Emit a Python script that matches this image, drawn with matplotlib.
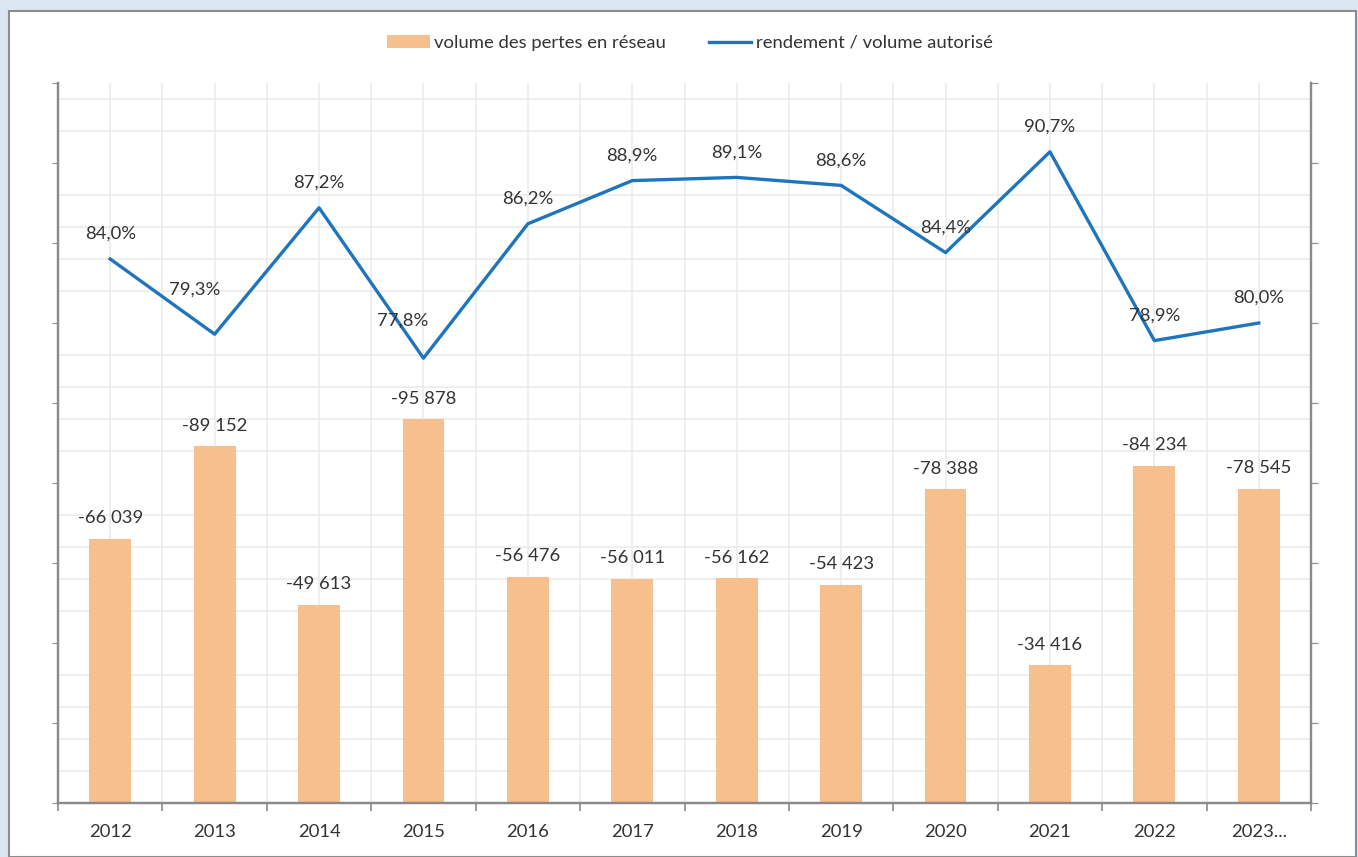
import matplotlib
matplotlib.use("Agg")
import matplotlib.pyplot as plt
from matplotlib.patches import Rectangle
import numpy as np

years = ["2012", "2013", "2014", "2015", "2016", "2017",
         "2018", "2019", "2020", "2021", "2022", "2023..."]
pertes = [-66039, -89152, -49613, -95878, -56476, -56011,
          -56162, -54423, -78388, -34416, -84234, -78545]
rendement = [84.0, 79.3, 87.2, 77.8, 86.2, 88.9,
             89.1, 88.6, 84.4, 90.7, 78.9, 80.0]

BAR_COLOR = "#f8bf8e"
LINE_COLOR = "#1f75bd"
TEXT_COLOR = "#333333"
AXIS_COLOR = "#8a8a8a"
GRID_COLOR = "#ebebeb"
FS = 13.3

plt.rcParams["font.family"] = ["Lato", "DejaVu Sans"]

fig = plt.figure(figsize=(13.58, 8.57), dpi=100)
fig.patch.set_facecolor("#dce6f2")

# white chart panel with grey frame
fig.patches.append(Rectangle(
    (9 / 1358, 0), 1347 / 1358, 846 / 857,
    transform=fig.transFigure, facecolor="white",
    edgecolor="#8c8c8c", linewidth=1.5, zorder=-10))

ax = fig.add_axes([58 / 1358, 54 / 857, 1253 / 1358, 720 / 857])
ax.set_facecolor("none")

x = np.arange(len(years))

ax.bar(x, pertes, width=0.4, color=BAR_COLOR, zorder=2,
       label="volume des pertes en réseau")

ax.set_xlim(-0.5, len(years) - 0.5)
ax.set_ylim(0, -180000)

# x: ticks at category boundaries, labels at centres
ax.set_xticks(np.arange(-0.5, len(years), 1.0))
ax.set_xticklabels([])
ax.set_xticks(x, minor=True)
ax.set_xticklabels(years, minor=True)
ax.tick_params(axis="x", which="major", length=6, width=1.2,
               color=AXIS_COLOR, direction="out")
ax.tick_params(axis="x", which="minor", length=0, pad=15,
               labelsize=FS, labelcolor=TEXT_COLOR)

# y: ticks every 20000, light grid every 8000
ax.set_yticks(np.arange(0, -180001, -20000))
ax.set_yticklabels([])
ax.set_yticks(np.arange(-8000, -180000, -8000), minor=True)
ax.tick_params(axis="y", which="major", length=4, width=0.8,
               color=AXIS_COLOR, direction="out")
ax.tick_params(axis="y", which="minor", length=0)

ax.grid(True, which="minor", axis="y", color=GRID_COLOR, linewidth=1.2)
ax.grid(True, which="both", axis="x", color=GRID_COLOR, linewidth=1.2)
ax.set_axisbelow(True)

for side in ["left", "right", "bottom"]:
    ax.spines[side].set_color(AXIS_COLOR)
    ax.spines[side].set_linewidth(1.6)
ax.spines["top"].set_visible(False)

for xi, v in zip(x, pertes):
    txt = f"{v:,}".replace(",", " ")
    ax.annotate(txt, (xi, v), xytext=(0, 15), textcoords="offset points",
                ha="center", va="center", fontsize=FS, color=TEXT_COLOR)

ax2 = ax.twinx()
ax2.plot(x, rendement, color=LINE_COLOR, linewidth=2.4,
         label="rendement / volume autorisé", zorder=3)
ax2.set_ylim(50, 95)
ax2.set_yticks(np.arange(50, 96, 5))
ax2.set_yticklabels([])
ax2.tick_params(axis="y", length=5, width=0.8, color=AXIS_COLOR,
                direction="out")
for side in ["left", "right", "bottom"]:
    ax2.spines[side].set_color(AXIS_COLOR)
    ax2.spines[side].set_linewidth(1.6)
ax2.spines["top"].set_visible(False)

offsets = [(0, 18)] * len(rendement)
offsets[1] = (-14, 32)
offsets[3] = (-15, 27)
for xi, v, off in zip(x, rendement, offsets):
    txt = f"{v:.1f}%".replace(".", ",")
    ax2.annotate(txt, (xi, v), xytext=off, textcoords="offset points",
                 ha="center", va="center", fontsize=FS, color=TEXT_COLOR)

h1, l1 = ax.get_legend_handles_labels()
h2, l2 = ax2.get_legend_handles_labels()
fig.legend(h1 + h2, l1 + l2, loc="center", bbox_to_anchor=(0.508, 1 - 43 / 857),
           ncol=2, frameon=False, fontsize=FS, handlelength=2.3,
           handletextpad=0.25, columnspacing=2.3, labelcolor=TEXT_COLOR)

plt.savefig("out.png", dpi=100, facecolor=fig.get_facecolor())
plt.close()
